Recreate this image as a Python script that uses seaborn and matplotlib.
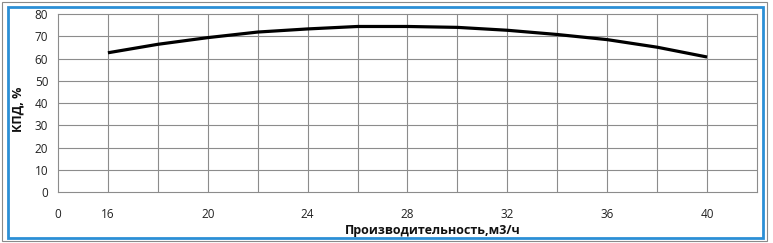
import matplotlib
matplotlib.use("Agg")
import matplotlib.pyplot as plt
import seaborn as sns
import pandas as pd
from matplotlib.patches import Rectangle

# data
flow = [16, 18, 20, 22, 24, 26, 28, 30, 32, 34, 36, 38, 40]
efficiency = [62.6, 66.4, 69.4, 71.9, 73.3, 74.4, 74.4, 74.0, 72.7, 70.8, 68.5, 65.1, 60.7]
x_tick_values = [14, 16, 20, 24, 28, 32, 36, 40]
x_tick_labels = ["0", "16", "20", "24", "28", "32", "36", "40"]
y_ticks = [0, 10, 20, 30, 40, 50, 60, 70, 80]
x_label = "Производительность,м3/ч"
y_label = "КПД, %"

sns.set_style("white")
plt.rcParams['font.family'] = ['Open Sans', 'DejaVu Sans']

W, H = 773, 243
fig = plt.figure(figsize=(W / 100, H / 100), dpi=100)
ax = fig.add_axes([58 / W, 1 - 192.3 / H, (757 - 58) / W, (192.3 - 14) / H])

df = pd.DataFrame({"flow": flow, "eff": efficiency})
sns.lineplot(data=df, x="flow", y="eff", ax=ax, color="black", linewidth=2.3,
             solid_capstyle="butt", zorder=5)

ax.set_xlim(14, 42)
ax.set_ylim(0, 80)

grid_c = "#8c8c8c"
for gx in range(16, 42, 2):
    ax.axvline(gx, color=grid_c, lw=0.8, zorder=1)
for gy in y_ticks[1:-1]:
    ax.axhline(gy, color=grid_c, lw=0.8, zorder=1)

ax.xaxis.remove_overlapping_locs = False
ax.set_xticks(list(range(14, 43, 4)))
ax.set_xticklabels([])
ax.tick_params(axis="x", which="major", length=4, width=0.8, color=grid_c, direction="out")
ax.set_xticks(x_tick_values, minor=True)
ax.set_xticklabels(x_tick_labels, minor=True)
ax.tick_params(axis="x", which="minor", length=0, pad=11, labelsize=8.5, labelcolor="#222222")

ax.set_yticks(y_ticks)
ax.set_yticklabels([str(v) for v in y_ticks])
ax.tick_params(axis="y", length=3, width=0.8, color=grid_c, direction="out", pad=4,
               labelsize=8.5, labelcolor="#222222")

for s in ax.spines.values():
    s.set_color(grid_c)
    s.set_linewidth(0.8)

ax.set_xlabel("")
ax.set_ylabel("")
fig.text(433 / W, 1 - 230 / H, x_label, ha="center", va="center",
         fontsize=9, fontweight="bold", color="#111111")
fig.text(18 / W, 1 - 109 / H, y_label, ha="center", va="center", rotation=90,
         fontsize=9, fontweight="bold", color="#111111")

fig.patches.append(Rectangle((2 / W, 2 / H), (767 - 2) / W, (241 - 2) / H,
                             transform=fig.transFigure, fill=False,
                             edgecolor="#8a8a8a", lw=0.8))
fig.patches.append(Rectangle((8 / W, 1 - 237.5 / H), (763 - 8) / W, (237.5 - 7) / H,
                             transform=fig.transFigure, fill=False,
                             edgecolor="#2b8fd6", lw=2.0))

fig.savefig("out.png", dpi=100)
